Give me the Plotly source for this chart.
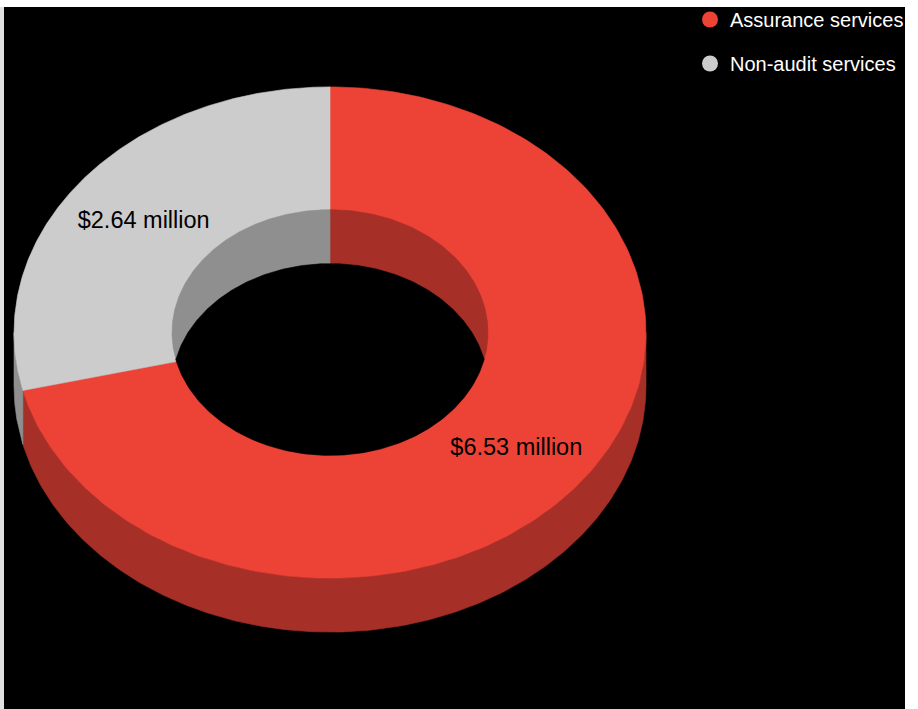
import numpy as np
import plotly.graph_objects as go

# ---- data ----
categories = ["Assurance services", "Non-audit services"]
values = [6.53, 2.64]
value_labels = ["$6.53 million", "$2.64 million"]
top_colors = ["#ED4337", "#CCCCCC"]
side_colors = ["#A62F27", "#8F8F8F"]

# ---- 3D donut geometry (pixel-like axis units) ----
CX, CY = 330, 332
RX, RY = 316, 246
DEPTH = 54
HOLE = 0.5
START = -90.0  # start at 12 o'clock, clockwise (screen y is down)
RXI, RYI = RX * HOLE, RY * HOLE
LABEL_DY = 3
FONT = "Liberation Sans, Arial, sans-serif"

total = sum(values)
spans = [v / total * 360.0 for v in values]
bounds = np.cumsum([START] + spans)


def arc(t0, t1, rx, ry, dy=0.0, n=240):
    t = np.radians(np.linspace(t0, t1, n))
    return list(CX + rx * np.cos(t)), list(CY + dy + ry * np.sin(t))


def poly(fig, xs, ys, color):
    fig.add_trace(go.Scatter(
        x=xs + [xs[0]], y=ys + [ys[0]], mode="lines", fill="toself",
        fillcolor=color, line=dict(color=color, width=0.6),
        hoverinfo="skip", showlegend=False))


fig = go.Figure()

# outer front side walls
for i in range(len(values)):
    b0, b1 = bounds[i], bounds[i + 1]
    for lo, hi in ((0, 180), (360, 540), (-360, -180)):
        a, b = max(b0, lo), min(b1, hi)
        if b > a:
            xt, yt = arc(a, b, RX, RY)
            xb, yb = arc(b, a, RX, RY, DEPTH)
            poly(fig, xt + xb, yt + yb, side_colors[i])

# top faces
for i in range(len(values)):
    xa, ya = arc(bounds[i], bounds[i + 1], RX, RY)
    poly(fig, [CX] + xa, [CY] + ya, top_colors[i])

# inner walls (seen through the hole)
for i in range(len(values)):
    xa, ya = arc(bounds[i], bounds[i + 1], RXI, RYI)
    poly(fig, [CX] + xa, [CY] + ya, side_colors[i])

# open bottom of the hole
phi = np.degrees(np.arcsin(DEPTH / (2 * RYI)))
x1, y1 = arc(phi, 180 - phi, RXI, RYI)
x2, y2 = arc(180 + phi, 360 - phi, RXI, RYI, DEPTH)
poly(fig, x1 + x2, y1 + y2, "#000000")

# value labels
mids = [(bounds[i] + bounds[i + 1]) / 2 for i in range(len(values))]
lr = (1 + HOLE) / 2
fig.add_trace(go.Scatter(
    x=[CX + RX * lr * np.cos(np.radians(m)) for m in mids],
    y=[CY + LABEL_DY + RY * lr * np.sin(np.radians(m)) for m in mids],
    mode="text", text=value_labels,
    textfont=dict(family=FONT, size=23.5, color="#000000"),
    hoverinfo="skip", showlegend=False))

# legend entries
for i, c in enumerate(categories):
    fig.add_trace(go.Scatter(
        x=[None], y=[None], mode="markers", name=c, legendgroup=c,
        marker=dict(symbol="circle", size=20, color=top_colors[i]),
        showlegend=True))

fig.update_layout(
    width=918, height=709,
    margin=dict(l=4, r=13, t=6, b=0),
    paper_bgcolor="#FFFFFF", plot_bgcolor="#000000",
    xaxis=dict(range=[4, 905], visible=False, fixedrange=True),
    yaxis=dict(range=[709, 6], visible=False, fixedrange=True),
    hovermode=False,
    showlegend=True,
    legend=dict(x=(690 - 4) / 901, xanchor="left", y=1 + 7 / 703, yanchor="top",
                bgcolor="rgba(0,0,0,0)", borderwidth=0,
                font=dict(family=FONT, size=20, color="#FFFFFF"),
                traceorder="grouped", tracegroupgap=15),
    shapes=[dict(type="rect", xref="paper", yref="paper",
                 x0=-4 / 901, x1=0, y0=0, y1=1,
                 fillcolor="#E0E0E0", line=dict(width=0), layer="below")],
)

fig.write_html("out.html",
               config={"displayModeBar": False},
               post_script="document.body.style.margin='0px';")
